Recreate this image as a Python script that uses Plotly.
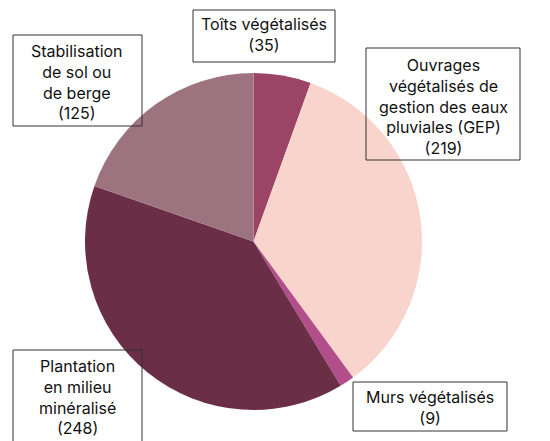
import plotly.graph_objects as go

categories = ["Toits végétalisés", "Ouvrages végétalisés de gestion des eaux pluviales (GEP)",
              "Murs végétalisés", "Plantation en milieu minéralisé", "Stabilisation de sol ou de berge"]
values = [35, 219, 9, 248, 125]
label_texts = ["Toîts végétalisés<br>(35)",
               "Ouvrages<br>végétalisés de<br>gestion des eaux<br>pluviales (GEP)<br>(219)",
               "Murs végétalisés<br>(9)",
               "Plantation<br>en milieu<br>minéralisé<br>(248)",
               "Stabilisation<br>de sol ou<br>de berge<br>(125)"]
colors = ["#9b4466", "#f9d4cc", "#b24e8a", "#6b2e47", "#9e7380"]

W, H = 550, 441
OFF = 8  # page body margin
# box geometry in window pixels (x0, y0, x1, y1) and text centre
boxes = [(193, 10, 335, 62), (366, 48, 520, 160), (353, 382, 507, 431),
         (13, 350, 142, 452), (13, 35, 142, 126)]
centres = [(264, 35), (443, 106), (430, 407), (77, 397), (77, 82)]

def px(x):
    return (x - OFF) / W

def py(y):
    return 1 - (y - OFF) / H

fig = go.Figure(go.Pie(
    labels=categories, values=values, sort=False, direction="clockwise", rotation=0,
    marker=dict(colors=colors, line=dict(width=0)), textinfo="none", hoverinfo="label+value",
    domain=dict(x=[px(85), px(422)], y=[py(410), py(73)]), showlegend=False,
))

shapes = []
annotations = []
for (x0, y0, x1, y1), (cx, cy), txt in zip(boxes, centres, label_texts):
    shapes.append(dict(type="rect", xref="paper", yref="paper",
                       x0=px(x0), x1=px(x1), y0=py(y1), y1=py(y0),
                       line=dict(color="#333333", width=1), fillcolor="rgba(0,0,0,0)"))
    annotations.append(dict(text=txt, xref="paper", yref="paper", x=px(cx), y=py(cy),
                            xanchor="center", yanchor="middle", showarrow=False, align="center",
                            font=dict(size=16, color="#111111", family="Inter")))

fig.update_layout(width=W, height=H, margin=dict(l=0, r=0, t=0, b=0),
                  paper_bgcolor="white", plot_bgcolor="white",
                  shapes=shapes, annotations=annotations)
fig.write_html("out.html")
